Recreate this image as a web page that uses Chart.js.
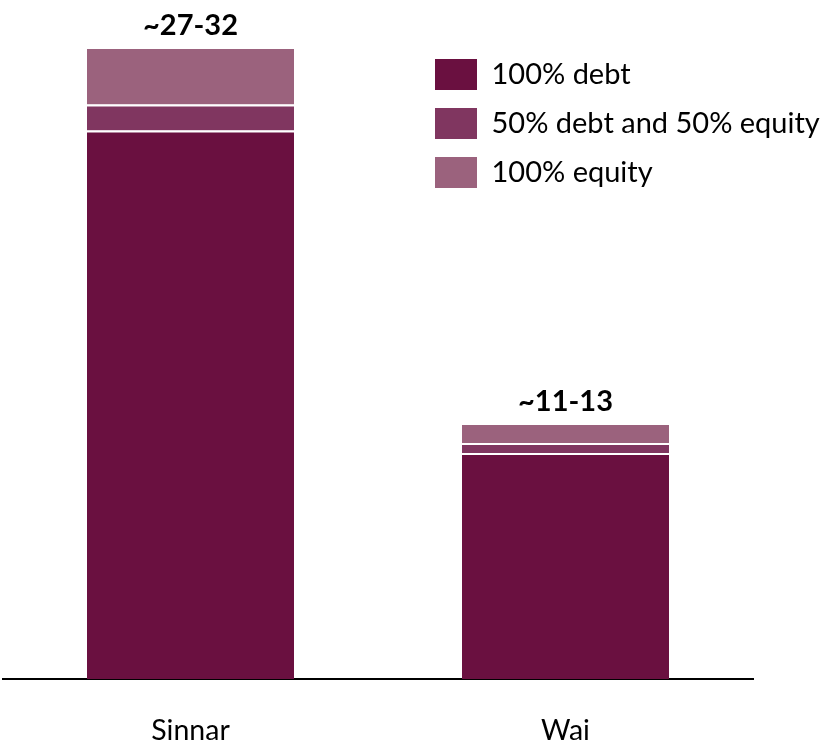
<!DOCTYPE html>
<html>
<head>
<meta charset="utf-8">
<script src="https://cdn.jsdelivr.net/npm/chart.js@4"></script>
<style>
  html, body { margin: 0; padding: 0; background: #fff; }
  #wrap { width: 833px; height: 751px; }
</style>
</head>
<body>
<div id="wrap"><canvas id="chart"></canvas></div>
<script>
// данные
const sites = ['Sinnar', 'Wai'];
const debtOnly = [27.88, 11.49];
const debtEquity = [1.32, 0.51];
const equityOnly = [2.92, 1.02];
const rangeLabels = ['~27-32', '~11-13'];

const seriesNames = ['100% debt', '50% debt and 50% equity', '100% equity'];
const seriesColors = ['#6a1040', '#803660', '#9b627d'];
const FONT = 'Lato, "Open Sans", sans-serif';

function makeSet(i, values) {
    return {
        label: seriesNames[i],
        data: values,
        backgroundColor: seriesColors[i],
        borderColor: '#ffffff',
        borderWidth: { top: 2, left: 0, right: 0, bottom: 0 },
        borderSkipped: false,
        barPercentage: 0.552,
        categoryPercentage: 1
    };
}

// подписи над столбцами
const rangePlugin = {
    id: 'rangeLabels',
    afterDatasetsDraw(chart) {
        const ctx = chart.ctx;
        const meta = chart.getDatasetMeta(chart.data.datasets.length - 1);
        ctx.save();
        ctx.font = 'bold 29px ' + FONT;
        ctx.fillStyle = '#000';
        ctx.textAlign = 'center';
        ctx.textBaseline = 'middle';
        meta.data.forEach((bar, i) => {
            ctx.fillText(rangeLabels[i], bar.x, bar.y - 21);
        });
        ctx.restore();
    }
};

// двигаем легенду вправо-вверх
const legendMove = {
    id: 'legendMove',
    afterLayout(chart) {
        const lg = chart.legend;
        const w = lg.width;
        lg.left = 417;
        lg.right = 417 + w;
        lg.top = 41;
        lg.bottom = 41 + lg.height;
    }
};

new Chart(document.getElementById('chart'), {
    type: 'bar',
    data: {
        labels: sites,
        datasets: [makeSet(0, debtOnly), makeSet(1, debtEquity), makeSet(2, equityOnly)]
    },
    options: {
        responsive: true,
        maintainAspectRatio: false,
        animation: false,
        layout: { padding: { left: 3, right: 80, top: 10, bottom: -31.5 } },
        plugins: {
            tooltip: { enabled: false },
            legend: {
                position: 'chartArea',
                align: 'start',
                labels: {
                    boxWidth: 42,
                    boxHeight: 31,
                    padding: 18,
                    color: '#000',
                    font: { family: FONT, size: 29 },
                    generateLabels(chart) {
                        return Chart.defaults.plugins.legend.labels.generateLabels(chart)
                            .map(l => Object.assign(l, { lineWidth: 0 }));
                    }
                }
            }
        },
        scales: {
            x: {
                stacked: true,
                grid: { display: false, drawTicks: false },
                border: { display: true, color: '#000', width: 2 },
                ticks: { color: '#000', padding: 34.5, font: { family: FONT, size: 28.5 } }
            },
            y: {
                stacked: true,
                display: false,
                min: 0,
                max: 34
            }
        }
    },
    plugins: [rangePlugin, legendMove]
});
</script>
</body>
</html>
